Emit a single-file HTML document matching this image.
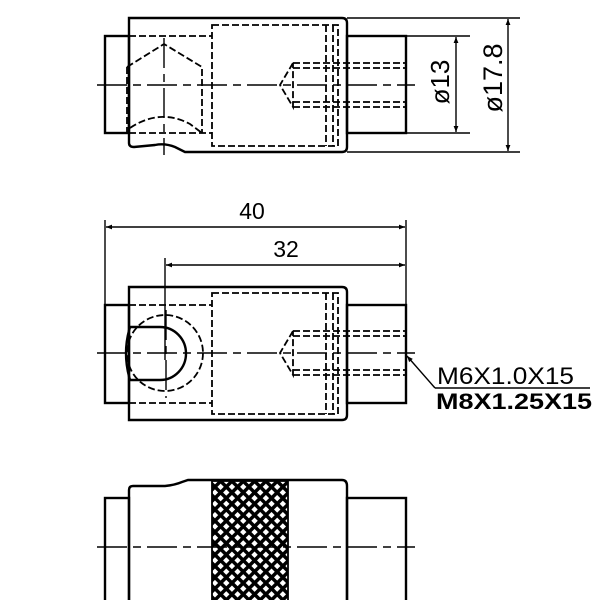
<!DOCTYPE html>
<html><head><style>body{margin:0;background:#fff}svg{display:block}</style></head><body>
<svg width="600" height="600" viewBox="0 0 600 600" xmlns="http://www.w3.org/2000/svg" font-family="Liberation Sans, sans-serif">
<defs>
<marker id="ar" viewBox="0 0 10 10" refX="10" refY="5" markerWidth="14" markerHeight="6" markerUnits="userSpaceOnUse" orient="auto-start-reverse"><path d="M0,1 L10,5 L0,9z" fill="#000"/></marker>
<pattern id="kn" width="8" height="8" patternUnits="userSpaceOnUse" patternTransform="rotate(45)">
<rect width="8" height="8" fill="#000"/><rect x="2" y="2" width="4.5" height="4.5" fill="#fff"/></pattern>
</defs>
<g fill="none" stroke="#000" stroke-width="2.4">
<rect x="105" y="36" width="24" height="97"/>
<rect x="347" y="36" width="59" height="97"/>
<path d="M129,18 H342 Q347,18 347,23 V147 Q347,152 342,152 H185 L175,147 Q165,143 155,145 L134,147 Q129,147 129,143 Z"/>
</g>
<g fill="none" stroke="#000" stroke-width="1.8" stroke-dasharray="7,3">
<path d="M212,25 H338 V146 H212 Z"/>
<path d="M326,25 V146 M333,25 V146"/>
<path d="M129,36 H212 M129,133 H212"/>
<path d="M127,67 L164,44 L202,67 V133 M127,67 V133"/>
<path d="M130,128 Q160,108 190,124 L202,133"/>
<path d="M293,63 H406 M293,68 H406 M293,102 H406 M293,107 H406"/>
<path d="M293,63 L280,85 L293,107 V63"/>
</g>
<g stroke="#000" stroke-width="1.4" fill="none">
<path d="M97,85 H415" stroke-dasharray="30,6,8,6"/>
<path d="M164,38 V155" stroke-dasharray="30,6,8,6"/>
<path d="M347,18 H520 M347,152 H520 M406,36 H470 M406,133 H470"/>
<path d="M456,37 V132" marker-start="url(#ar)" marker-end="url(#ar)"/>
<path d="M508,19 V151" marker-start="url(#ar)" marker-end="url(#ar)"/>
<path d="M105,220 V305 M406,220 V305 M165,258 V360"/>
<path d="M106,227 H405" marker-start="url(#ar)" marker-end="url(#ar)"/>
<path d="M166,265 H405" marker-start="url(#ar)" marker-end="url(#ar)"/>
<path d="M435,388 L407,356" marker-end="url(#ar)"/>
<path d="M435,388 H590"/>
</g>
<text transform="translate(449,82) rotate(-90)" text-anchor="middle" font-size="26">ø13</text>
<text transform="translate(502,78) rotate(-90)" text-anchor="middle" font-size="27">ø17.8</text>
<text x="252" y="219" text-anchor="middle" font-size="23">40</text>
<text x="286" y="257" text-anchor="middle" font-size="23">32</text>
<text x="437" y="384" font-size="24" textLength="137" lengthAdjust="spacingAndGlyphs">M6X1.0X15</text>
<text x="436" y="409" font-size="22" font-weight="bold" textLength="156" lengthAdjust="spacingAndGlyphs">M8X1.25X15</text>
<g fill="none" stroke="#000" stroke-width="2.4">
<rect x="105" y="305" width="24" height="98"/>
<rect x="347" y="305" width="59" height="98"/>
<path d="M129,287 H342 Q347,287 347,292 V415 Q347,420 342,420 H129 Z"/>
<path d="M130,327 H160 A26,26.5 0 0 1 160,380 H130"/>
<path d="M130,327 Q122,353 130,380"/>
</g>
<g fill="none" stroke="#000" stroke-width="1.8" stroke-dasharray="7,3">
<path d="M212,293 H338 V414 H212 Z"/>
<path d="M326,293 V414 M333,293 V414"/>
<path d="M129,305 H212 M129,403 H212"/>
<circle cx="165" cy="353" r="38"/>
<path d="M293,331 H406 M293,336 H406 M293,370 H406 M293,375 H406"/>
<path d="M293,331 L280,353 L293,375 V331"/>
</g>
<g stroke="#000" stroke-width="1.4" fill="none" stroke-dasharray="30,6,8,6">
<path d="M97,353 H415"/>
<path d="M166,310 V398"/>
</g>
<g fill="none" stroke="#000" stroke-width="2.4">
<rect x="105" y="498" width="24" height="110"/>
<rect x="347" y="498" width="59" height="110"/>
<path d="M129,610 V490 Q129,486 133,486 H165 Q175,485 182,482 L188,480 H342 Q347,480 347,486 V610"/>
</g>
<rect x="212" y="481" width="76" height="125" fill="url(#kn)" stroke="#000" stroke-width="1.8"/>
<path d="M97,547 H415" stroke="#000" stroke-width="1.4" stroke-dasharray="30,6,8,6"/>
</svg>
</body></html>
